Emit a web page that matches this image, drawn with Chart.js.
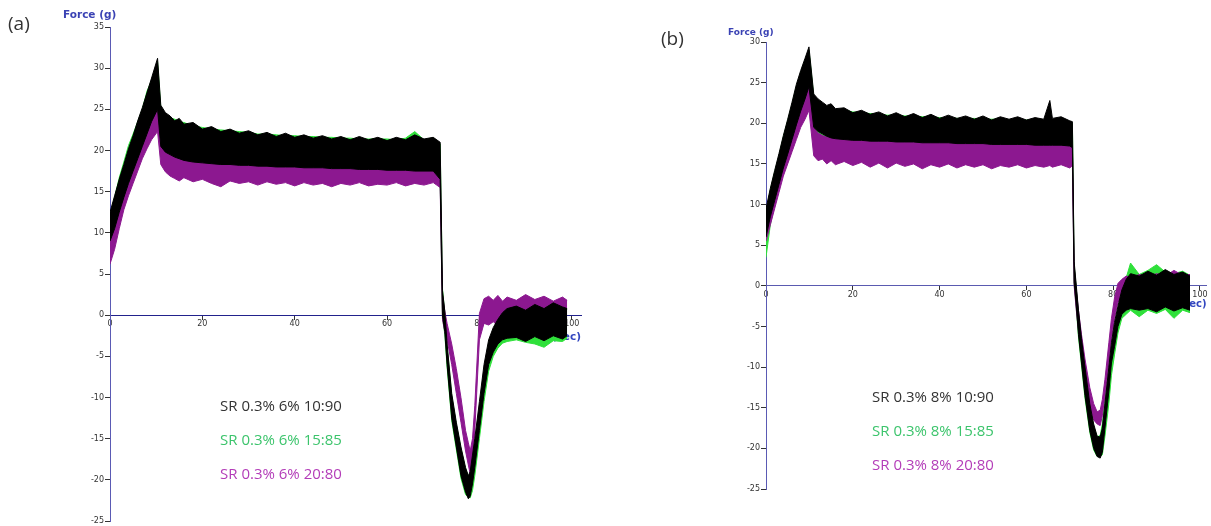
<!DOCTYPE html>
<html>
<head>
<meta charset="utf-8">
<script src="https://cdn.jsdelivr.net/npm/chart.js@4.4.0/dist/chart.umd.min.js"></script>
<style>
  html, body { margin: 0; padding: 0; background: #fff; }
  body { width: 1211px; height: 526px; position: relative; overflow: hidden; }
  canvas { position: absolute; }
  .txt { position: absolute; white-space: nowrap; }
  .panel { font-family: "Open Sans", sans-serif; font-size: 19px; color: #333; line-height: 24px; }
  .ytitle { font-family: "DejaVu Sans", sans-serif; font-weight: bold; color: #3a42b4; line-height: 12px; }
  .leg { font-family: "Open Sans", sans-serif; font-size: 15px; line-height: 20px; }
</style>
</head>
<body>
<canvas id="chartA" width="620" height="546" style="left:0px; top:-10px;"></canvas>
<canvas id="chartB" width="600" height="546" style="left:640px; top:-10px;"></canvas>

<div class="txt panel" style="left:8px; top:11px;">(a)</div>
<div class="txt panel" style="left:661px; top:26px;">(b)</div>
<div class="txt ytitle" style="left:63px; top:8px; font-size:10.5px;">Force (g)</div>
<div class="txt ytitle" style="left:728px; top:26px; font-size:9px;">Force (g)</div>

<div class="txt leg" style="left:220px; top:395px; color:#333;">SR 0.3% 6% 10:90</div>
<div class="txt leg" style="left:220px; top:429px; color:#3cc46c;">SR 0.3% 6% 15:85</div>
<div class="txt leg" style="left:220px; top:463px; color:#b33cb8;">SR 0.3% 6% 20:80</div>
<div class="txt leg" style="left:872px; top:386px; color:#333;">SR 0.3% 8% 10:90</div>
<div class="txt leg" style="left:872px; top:420px; color:#3cc46c;">SR 0.3% 8% 15:85</div>
<div class="txt leg" style="left:872px; top:454px; color:#b33cb8;">SR 0.3% 8% 20:80</div>

<script>
// ---- panel (a): SR 0.3% 6% ----
const timeA = [0,1,2,3,4,5,6,7,8,9,10.3,11,12,13,14,15,16,18,20,22,24,26,28,30,32,34,36,38,40,42,44,46,48,50,52,54,56,58,60,62,64,66,68,70,
  71.5,72,72.5,73,74,75,76,77,77.6,78,78.5,79,80,81,82,83,84,85,86,88,90,92,94,96,98,99];

const blackHiA = [12.5,14.5,16.5,18.3,20.2,21.8,23.6,25.2,27,28.8,31.2,25.5,24.6,24.2,23.6,23.9,23.2,
  23.4,22.6,22.9,22.3,22.6,22.1,22.4,21.9,22.2,21.7,22.1,21.6,21.9,21.5,21.8,21.4,21.7,21.3,21.7,21.3,21.6,21.2,21.6,21.3,21.9,21.4,21.6,
  21.0,3.0,0.5,-3.5,-9.5,-13,-16,-18.5,-19.5,-19,-17,-15,-10.5,-6,-3,-1.5,-0.5,0.3,0.8,1.1,0.6,1.3,0.8,1.5,1.0,0.8];
const blackLoA = [9.0,10.5,12.5,14.3,16,17.5,19,20.5,22,23.5,25,20.5,19.8,19.5,19.2,19,18.8,
  18.6,18.5,18.4,18.3,18.3,18.2,18.2,18.1,18.1,18,18,18,17.9,17.9,17.9,17.8,17.8,17.8,17.7,17.7,17.7,17.6,17.6,17.6,17.5,17.5,17.5,
  16.5,0,-2,-6,-12.5,-16,-19.5,-21.5,-22.3,-22,-20.5,-18.5,-14,-9.5,-6,-4.5,-3.5,-3,-2.8,-2.7,-3.2,-2.6,-3.1,-2.5,-2.9,-2.5];

const purpleHiA = [9,11,13,15.5,17.5,19,20.5,22,23.5,24.6,25.5,22,20.8,20.2,19.9,19.8,19.7,
  19.6,19.5,19.5,19.4,19.4,19.3,19.3,19.2,19.2,19.1,19.1,19,19,19,18.9,18.9,18.9,18.8,18.8,18.8,18.7,18.7,18.7,18.6,18.6,18.6,18.5,
  18.5,2.5,0.5,-1,-3.5,-6.5,-10,-14,-15.5,-16.5,-15,-11,0.2,2.0,2.3,1.8,2.4,1.7,2.2,1.8,2.5,1.9,2.3,1.7,2.2,1.8];
const purpleLoA = [6.2,8,10.5,12.8,14.5,16,17.5,19,20.2,21.3,22.3,18.3,17.4,16.9,16.6,16.3,16.7,
  16.2,16.5,16,15.6,16.3,16,16.2,15.8,16.2,15.9,16.1,15.7,16.1,15.8,16,15.6,16,15.8,16.1,15.7,15.9,15.8,16.1,15.7,16,15.8,16.1,
  15.5,-0.5,-2,-3,-6,-9.5,-13,-16.5,-18.2,-19.3,-18,-14,-3,-1,-1.2,-0.8,-1.3,-0.9,-1.2,-0.8,-1.3,-0.9,-1.2,-0.8,-1.1,-0.9];

const greenHiA = [12,14.3,16.7,18.6,20.6,22,23.5,25,27.2,28.5,30.8,25.2,24.3,24,23.8,23.5,23.4,
  23,22.8,22.6,22.5,22.4,22.3,22.2,22,22,21.9,21.8,21.8,21.7,21.7,21.6,21.6,21.5,21.5,21.4,21.4,21.4,21.4,21.3,21.5,22.3,21.3,21.5,
  20.8,3.2,0.3,-3.7,-9.8,-13.3,-16.2,-18.7,-19.6,-19.5,-18,-16,-11.5,-7,-3.5,-1.8,-0.8,0,0.6,0.9,0.7,1.0,0.8,1.2,1.0,0.7];
const greenLoA = [8.5,10.2,12.3,14,15.8,17.3,18.8,20.3,21.8,23.3,24.8,20.3,19.6,19.3,19,18.8,18.7,
  18.5,18.4,18.3,18.2,18.2,18.1,18.1,18,18,17.9,17.9,17.9,17.8,17.8,17.8,17.7,17.7,17.7,17.6,17.6,17.6,17.5,17.5,17.5,17.4,17.4,17.4,
  16.3,-0.3,-2.3,-6.3,-12.8,-16.3,-19.8,-21.8,-22.1,-22.2,-21.3,-19.5,-15,-10.5,-6.8,-5,-4,-3.4,-3.2,-3,-3.3,-3.5,-3.9,-3.1,-3.2,-2.8];

// ---- panel (b): SR 0.3% 8% ----
const timeB = [0,1,2,3,4,5,6,7,8,9,9.9,11,12,13,14,15,16,18,20,22,24,26,28,30,32,34,36,38,40,42,44,46,48,50,52,54,56,58,60,62,64,
  65.4,66,68,70,70.6,71,71.5,72,72.7,73.5,74.6,75.5,76.3,77,77.5,78.1,79,79.6,80.3,81.1,82,83,84,86,88,90,92,94,96,97.7];

const blackHiB = [9.5,12,14.2,16.3,18.5,20.5,22.6,24.8,26.5,28,29.4,23.6,23,22.6,22.2,22.4,21.8,
  21.9,21.3,21.6,21.1,21.4,20.9,21.3,20.8,21.2,20.7,21.1,20.6,21,20.6,20.9,20.5,20.9,20.4,20.8,20.5,20.8,20.4,20.7,20.5,
  22.8,20.6,20.8,20.3,20.2,3,0,-3,-6.5,-10,-14.5,-17,-18.5,-18.6,-17.5,-14.5,-10,-7,-4.5,-2.5,-0.5,0.8,1.5,1.2,1.8,1.3,2.0,1.4,1.7,1.2];
const blackLoB = [6,8.5,10.5,12.5,14.5,16.2,18,19.8,21.5,23,24.5,19.5,19,18.7,18.4,18.2,18.1,
  18,17.9,17.9,17.8,17.8,17.8,17.7,17.7,17.7,17.6,17.6,17.6,17.6,17.5,17.5,17.5,17.5,17.4,17.4,17.4,17.4,17.4,17.3,17.3,
  17.3,17.3,17.3,17.2,17,0.5,-2.5,-6,-9.5,-13.5,-17.8,-20,-21,-21.2,-20.5,-17.5,-13,-9.5,-7.5,-5,-3.5,-3,-2.8,-3,-2.8,-3.2,-2.6,-3.1,-2.7,-3];

const purpleHiB = [8,10,12,14,16,17.8,19.5,21.2,22.8,24.2,25.3,19.5,18.8,18.5,18.3,18.2,18.2,
  18.1,18.1,18,18,18,17.9,17.9,17.9,17.8,17.8,17.8,17.8,17.7,17.7,17.7,17.7,17.6,17.6,17.6,17.6,17.5,17.5,17.5,17.5,
  17.5,17.5,17.4,17.4,17.3,2.5,-0.5,-3,-6,-9,-12.5,-14.5,-15.5,-15.3,-14,-11.5,-7,-4,-1.5,0.3,0.8,1.2,1.0,1.4,1.1,1.5,1.2,1.9,1.3,1.4];
const purpleLoB = [5.5,7.5,9.5,11.5,13.5,15,16.5,18,19.5,20.5,21.6,16,15.4,15.6,15,15.4,14.9,
  15.3,14.8,15.2,14.6,15.1,14.5,15.1,14.7,15,14.4,14.9,14.6,15,14.5,14.9,14.6,14.9,14.4,14.8,14.6,14.9,14.5,14.8,14.6,
  14.8,14.6,14.9,14.5,14.8,0,-3,-5.5,-8.5,-11.5,-15,-16.5,-17,-17.2,-16,-13.5,-9.5,-6.5,-4,-2,-1.5,-2.2,-1.8,-2.4,-2,-2.5,-2.1,-2.6,-2.2,-2.5];

const greenHiB = [9,11.8,14,16,18.3,20.3,22.3,24.5,26.2,27.8,29,23.3,22.8,22.4,22,22,21.7,
  21.6,21.4,21.3,21.2,21.1,21,21,20.9,20.9,20.8,20.8,20.7,20.7,20.6,20.6,20.6,20.5,20.5,20.5,20.4,20.4,20.4,20.4,20.3,
  20.4,20.3,20.3,20.2,20,2.6,-0.4,-3.4,-7,-10.5,-15,-17.3,-18.6,-18.4,-17,-14,-11,-8.3,-5.5,-3,-0.8,1,2.8,1.4,1.9,2.6,1.7,1.5,1.8,1.3];
const greenLoB = [3.5,7.5,10,12.2,14.2,16,17.8,19.6,21.3,22.8,24.2,19.3,18.8,18.5,18.2,18,17.9,
  17.8,17.7,17.7,17.6,17.6,17.6,17.5,17.5,17.5,17.4,17.4,17.4,17.4,17.3,17.3,17.3,17.3,17.2,17.2,17.2,17.2,17.2,17.1,17.1,
  17.1,17.1,17.1,17,16.8,0.3,-2.8,-6.3,-9.8,-13.8,-18,-20.2,-21,-21,-20.8,-18.5,-14.5,-11,-8.5,-5.8,-4,-3.5,-3,-3.8,-3,-3.4,-2.9,-4,-3,-3.3];

const xTicks = [0, 20, 40, 60, 80, 100];

const tickFont = { family: '"DejaVu Sans", sans-serif', size: 8 };

// each series is drawn as a filled band between its upper and lower trace
function bands(time, series) {
  const sets = [];
  series.forEach(s => {
    sets.push({ data: time.map((t, i) => ({ x: t, y: s.hi[i] })), borderColor: s.color, borderWidth: 1, pointRadius: 0, fill: false });
    sets.push({ data: time.map((t, i) => ({ x: t, y: s.lo[i] })), borderColor: s.color, backgroundColor: s.color, borderWidth: 1, pointRadius: 0, fill: '-1' });
  });
  return sets;
}

// "Time (sec)" sits under the traces, so draw it before the datasets
const timeLabel = {
  id: 'timeLabel',
  beforeDatasetsDraw(chart, args, opts) {
    const ctx = chart.ctx;
    const y = chart.scales.y.getPixelForValue(0) + opts.dy;
    ctx.save();
    ctx.font = 'bold ' + opts.size + 'px "DejaVu Sans", sans-serif';
    ctx.fillStyle = '#3347c0';
    ctx.textAlign = 'right';
    ctx.textBaseline = 'middle';
    ctx.fillText('Time (sec)', chart.chartArea.right, y);
    ctx.restore();
  }
};

function makeChart(id, time, series, yMin, yMax, xMax, pad, yColor, xColor, label) {
  return new Chart(document.getElementById(id), {
    type: 'line',
    data: { datasets: bands(time, series) },
    options: {
      responsive: false,
      animation: false,
      devicePixelRatio: 1,
      layout: { padding: pad },
      plugins: { legend: { display: false }, tooltip: { enabled: false }, timeLabel: label },
      scales: {
        x: {
          type: 'linear', min: 0, max: xMax,
          position: { y: 0 },
          afterBuildTicks: axis => { axis.ticks = xTicks.map(v => ({ value: v })); },
          ticks: { font: tickFont, color: '#333', padding: 0, maxRotation: 0, autoSkip: false },
          grid: { drawOnChartArea: false, drawTicks: true, tickLength: 4, color: '#333', tickColor: '#333' },
          border: { color: xColor, width: 1 }
        },
        y: {
          type: 'linear', min: yMin, max: yMax,
          afterFit: axis => { axis.width = 50; },
          ticks: { stepSize: 5, font: tickFont, color: '#333', padding: 1 },
          grid: { drawOnChartArea: false, drawTicks: true, tickLength: 5, color: '#333', tickColor: '#333' },
          border: { color: yColor, width: 1 }
        }
      }
    },
    plugins: [timeLabel]
  });
}

makeChart('chartA', timeA, [
  { hi: blackHiA, lo: blackLoA, color: '#000000' },
  { hi: purpleHiA, lo: purpleLoA, color: '#8c1890' },
  { hi: greenHiA, lo: greenLoA, color: '#2fe03a' }
], -25, 35, 102, { left: 60, top: 37, right: 39, bottom: 15 }, '#5a5ab4', '#22228c', { dy: 22, size: 10.5 });

makeChart('chartB', timeB, [
  { hi: blackHiB, lo: blackLoB, color: '#000000' },
  { hi: purpleHiB, lo: purpleLoB, color: '#8c1890' },
  { hi: greenHiB, lo: greenLoB, color: '#2fe03a' }
], -25, 30, 101.5, { left: 76, top: 52, right: 33.5, bottom: 47 }, '#5a5ab4', '#5a5ab0', { dy: 19, size: 10 });
</script>
</body>
</html>
